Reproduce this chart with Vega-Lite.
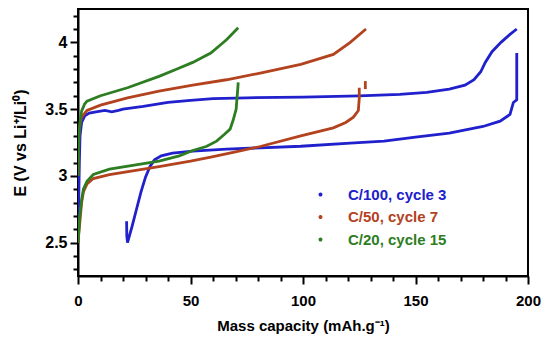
{
  "$schema": "https://vega.github.io/schema/vega-lite/v6.json",
  "width": 450,
  "height": 267,
  "autosize": {"type": "none"},
  "padding": {"left": 78, "top": 9, "right": 22, "bottom": 66},
  "background": "white",
  "config": {
    "view": {"stroke": "black", "strokeWidth": 2},
    "font": "Liberation Sans",
    "axis": {
      "domainColor": "black", "domainWidth": 2,
      "labelFont": "Liberation Sans", "labelFontWeight": "bold", "labelFontSize": 15, "labelColor": "black",
      "titleFont": "Liberation Sans", "titleFontWeight": "bold", "titleFontSize": 15, "titleColor": "black",
      "grid": false
    }
  },
  "data": {"values": [
    {"s":"C/100, cycle 3","g":"b1","i":0,"x":0,"y":2.55},
    {"s":"C/100, cycle 3","g":"b1","i":1,"x":0.3,"y":2.8},
    {"s":"C/100, cycle 3","g":"b1","i":2,"x":0.6,"y":3.1},
    {"s":"C/100, cycle 3","g":"b1","i":3,"x":0.9,"y":3.3},
    {"s":"C/100, cycle 3","g":"b1","i":4,"x":1.6,"y":3.4},
    {"s":"C/100, cycle 3","g":"b1","i":5,"x":3,"y":3.45},
    {"s":"C/100, cycle 3","g":"b1","i":6,"x":5,"y":3.47},
    {"s":"C/100, cycle 3","g":"b1","i":7,"x":8,"y":3.48},
    {"s":"C/100, cycle 3","g":"b1","i":8,"x":12,"y":3.49},
    {"s":"C/100, cycle 3","g":"b1","i":9,"x":15,"y":3.48},
    {"s":"C/100, cycle 3","g":"b1","i":10,"x":18,"y":3.49},
    {"s":"C/100, cycle 3","g":"b1","i":11,"x":20,"y":3.5},
    {"s":"C/100, cycle 3","g":"b1","i":12,"x":29,"y":3.52},
    {"s":"C/100, cycle 3","g":"b1","i":13,"x":40,"y":3.55},
    {"s":"C/100, cycle 3","g":"b1","i":14,"x":50,"y":3.565},
    {"s":"C/100, cycle 3","g":"b1","i":15,"x":60,"y":3.578},
    {"s":"C/100, cycle 3","g":"b1","i":16,"x":75,"y":3.585},
    {"s":"C/100, cycle 3","g":"b1","i":17,"x":100,"y":3.59},
    {"s":"C/100, cycle 3","g":"b1","i":18,"x":125,"y":3.6},
    {"s":"C/100, cycle 3","g":"b1","i":19,"x":143,"y":3.61},
    {"s":"C/100, cycle 3","g":"b1","i":20,"x":155,"y":3.625},
    {"s":"C/100, cycle 3","g":"b1","i":21,"x":165,"y":3.65},
    {"s":"C/100, cycle 3","g":"b1","i":22,"x":172,"y":3.68},
    {"s":"C/100, cycle 3","g":"b1","i":23,"x":176,"y":3.72},
    {"s":"C/100, cycle 3","g":"b1","i":24,"x":179,"y":3.78},
    {"s":"C/100, cycle 3","g":"b1","i":25,"x":181,"y":3.85},
    {"s":"C/100, cycle 3","g":"b1","i":26,"x":184,"y":3.93},
    {"s":"C/100, cycle 3","g":"b1","i":27,"x":188,"y":4.0},
    {"s":"C/100, cycle 3","g":"b1","i":28,"x":192,"y":4.06},
    {"s":"C/100, cycle 3","g":"b1","i":29,"x":195,"y":4.1},
    {"s":"C/100, cycle 3","g":"b2","i":0,"x":21.6,"y":2.66},
    {"s":"C/100, cycle 3","g":"b2","i":1,"x":21.7,"y":2.55},
    {"s":"C/100, cycle 3","g":"b2","i":2,"x":22,"y":2.5},
    {"s":"C/100, cycle 3","g":"b2","i":3,"x":24,"y":2.62},
    {"s":"C/100, cycle 3","g":"b2","i":4,"x":26,"y":2.75},
    {"s":"C/100, cycle 3","g":"b2","i":5,"x":28,"y":2.88},
    {"s":"C/100, cycle 3","g":"b2","i":6,"x":30,"y":2.99},
    {"s":"C/100, cycle 3","g":"b2","i":7,"x":32,"y":3.07},
    {"s":"C/100, cycle 3","g":"b2","i":8,"x":34,"y":3.12},
    {"s":"C/100, cycle 3","g":"b2","i":9,"x":37,"y":3.15},
    {"s":"C/100, cycle 3","g":"b2","i":10,"x":42,"y":3.17},
    {"s":"C/100, cycle 3","g":"b2","i":11,"x":51,"y":3.185},
    {"s":"C/100, cycle 3","g":"b2","i":12,"x":66,"y":3.2},
    {"s":"C/100, cycle 3","g":"b2","i":13,"x":81,"y":3.21},
    {"s":"C/100, cycle 3","g":"b2","i":14,"x":99,"y":3.222},
    {"s":"C/100, cycle 3","g":"b2","i":15,"x":121,"y":3.245},
    {"s":"C/100, cycle 3","g":"b2","i":16,"x":136,"y":3.26},
    {"s":"C/100, cycle 3","g":"b2","i":17,"x":150,"y":3.29},
    {"s":"C/100, cycle 3","g":"b2","i":18,"x":165,"y":3.32},
    {"s":"C/100, cycle 3","g":"b2","i":19,"x":180,"y":3.37},
    {"s":"C/100, cycle 3","g":"b2","i":20,"x":187.6,"y":3.41},
    {"s":"C/100, cycle 3","g":"b2","i":21,"x":192,"y":3.46},
    {"s":"C/100, cycle 3","g":"b2","i":22,"x":193.5,"y":3.55},
    {"s":"C/100, cycle 3","g":"b2","i":23,"x":195,"y":3.57},
    {"s":"C/100, cycle 3","g":"b2","i":24,"x":195,"y":3.75},
    {"s":"C/100, cycle 3","g":"b2","i":25,"x":195,"y":3.92},
    {"s":"C/50, cycle 7","g":"r1","i":0,"x":0,"y":3.0},
    {"s":"C/50, cycle 7","g":"r1","i":1,"x":0.4,"y":3.3},
    {"s":"C/50, cycle 7","g":"r1","i":2,"x":1,"y":3.4},
    {"s":"C/50, cycle 7","g":"r1","i":3,"x":1.6,"y":3.44},
    {"s":"C/50, cycle 7","g":"r1","i":4,"x":4,"y":3.49},
    {"s":"C/50, cycle 7","g":"r1","i":5,"x":10,"y":3.53},
    {"s":"C/50, cycle 7","g":"r1","i":6,"x":22,"y":3.585},
    {"s":"C/50, cycle 7","g":"r1","i":7,"x":36,"y":3.635},
    {"s":"C/50, cycle 7","g":"r1","i":8,"x":51,"y":3.68},
    {"s":"C/50, cycle 7","g":"r1","i":9,"x":66,"y":3.72},
    {"s":"C/50, cycle 7","g":"r1","i":10,"x":81,"y":3.77},
    {"s":"C/50, cycle 7","g":"r1","i":11,"x":99,"y":3.835},
    {"s":"C/50, cycle 7","g":"r1","i":12,"x":113.5,"y":3.91},
    {"s":"C/50, cycle 7","g":"r1","i":13,"x":121,"y":4.0},
    {"s":"C/50, cycle 7","g":"r1","i":14,"x":128,"y":4.1},
    {"s":"C/50, cycle 7","g":"r2","i":0,"x":0,"y":2.5},
    {"s":"C/50, cycle 7","g":"r2","i":1,"x":0.8,"y":2.65},
    {"s":"C/50, cycle 7","g":"r2","i":2,"x":1.6,"y":2.8},
    {"s":"C/50, cycle 7","g":"r2","i":3,"x":2.4,"y":2.88},
    {"s":"C/50, cycle 7","g":"r2","i":4,"x":4,"y":2.94},
    {"s":"C/50, cycle 7","g":"r2","i":5,"x":6.8,"y":2.98},
    {"s":"C/50, cycle 7","g":"r2","i":6,"x":14,"y":3.01},
    {"s":"C/50, cycle 7","g":"r2","i":7,"x":25,"y":3.04},
    {"s":"C/50, cycle 7","g":"r2","i":8,"x":36,"y":3.07},
    {"s":"C/50, cycle 7","g":"r2","i":9,"x":50,"y":3.11},
    {"s":"C/50, cycle 7","g":"r2","i":10,"x":59,"y":3.14},
    {"s":"C/50, cycle 7","g":"r2","i":11,"x":70,"y":3.18},
    {"s":"C/50, cycle 7","g":"r2","i":12,"x":81,"y":3.22},
    {"s":"C/50, cycle 7","g":"r2","i":13,"x":99,"y":3.3},
    {"s":"C/50, cycle 7","g":"r2","i":14,"x":113.5,"y":3.36},
    {"s":"C/50, cycle 7","g":"r2","i":15,"x":119,"y":3.4},
    {"s":"C/50, cycle 7","g":"r2","i":16,"x":122.4,"y":3.44},
    {"s":"C/50, cycle 7","g":"r2","i":17,"x":124.6,"y":3.49},
    {"s":"C/50, cycle 7","g":"r2","i":18,"x":125,"y":3.58},
    {"s":"C/50, cycle 7","g":"r2","i":19,"x":125,"y":3.66},
    {"s":"C/50, cycle 7","g":"r3","i":0,"x":127.7,"y":3.65},
    {"s":"C/50, cycle 7","g":"r3","i":1,"x":127.7,"y":3.71},
    {"s":"C/20, cycle 15","g":"g1","i":0,"x":0,"y":3.0},
    {"s":"C/20, cycle 15","g":"g1","i":1,"x":0.4,"y":3.3},
    {"s":"C/20, cycle 15","g":"g1","i":2,"x":1,"y":3.42},
    {"s":"C/20, cycle 15","g":"g1","i":3,"x":1.6,"y":3.485},
    {"s":"C/20, cycle 15","g":"g1","i":4,"x":3,"y":3.54},
    {"s":"C/20, cycle 15","g":"g1","i":5,"x":4,"y":3.56},
    {"s":"C/20, cycle 15","g":"g1","i":6,"x":10,"y":3.6},
    {"s":"C/20, cycle 15","g":"g1","i":7,"x":22,"y":3.66},
    {"s":"C/20, cycle 15","g":"g1","i":8,"x":36,"y":3.745},
    {"s":"C/20, cycle 15","g":"g1","i":9,"x":44,"y":3.8},
    {"s":"C/20, cycle 15","g":"g1","i":10,"x":51,"y":3.85},
    {"s":"C/20, cycle 15","g":"g1","i":11,"x":59,"y":3.92},
    {"s":"C/20, cycle 15","g":"g1","i":12,"x":66,"y":4.02},
    {"s":"C/20, cycle 15","g":"g1","i":13,"x":71.2,"y":4.11},
    {"s":"C/20, cycle 15","g":"g2","i":0,"x":0,"y":2.5},
    {"s":"C/20, cycle 15","g":"g2","i":1,"x":0.8,"y":2.7},
    {"s":"C/20, cycle 15","g":"g2","i":2,"x":1.6,"y":2.82},
    {"s":"C/20, cycle 15","g":"g2","i":3,"x":2.4,"y":2.9},
    {"s":"C/20, cycle 15","g":"g2","i":4,"x":4,"y":2.96},
    {"s":"C/20, cycle 15","g":"g2","i":5,"x":6.8,"y":3.01},
    {"s":"C/20, cycle 15","g":"g2","i":6,"x":14,"y":3.05},
    {"s":"C/20, cycle 15","g":"g2","i":7,"x":25,"y":3.08},
    {"s":"C/20, cycle 15","g":"g2","i":8,"x":36,"y":3.11},
    {"s":"C/20, cycle 15","g":"g2","i":9,"x":45,"y":3.15},
    {"s":"C/20, cycle 15","g":"g2","i":10,"x":51,"y":3.19},
    {"s":"C/20, cycle 15","g":"g2","i":11,"x":57,"y":3.22},
    {"s":"C/20, cycle 15","g":"g2","i":12,"x":61.6,"y":3.26},
    {"s":"C/20, cycle 15","g":"g2","i":13,"x":65,"y":3.31},
    {"s":"C/20, cycle 15","g":"g2","i":14,"x":67.6,"y":3.35},
    {"s":"C/20, cycle 15","g":"g2","i":15,"x":69,"y":3.42},
    {"s":"C/20, cycle 15","g":"g2","i":16,"x":70.3,"y":3.5},
    {"s":"C/20, cycle 15","g":"g2","i":17,"x":70.6,"y":3.57},
    {"s":"C/20, cycle 15","g":"g2","i":18,"x":71,"y":3.65},
    {"s":"C/20, cycle 15","g":"g2","i":19,"x":71.2,"y":3.7}
  ]},
  "resolve": {"axis": {"x": "independent", "y": "independent"}},
  "layer": [
    {
      "mark": {"type": "line", "opacity": 0},
      "encoding": {
        "x": {
          "field": "x", "type": "quantitative",
          "scale": {"domain": [0, 200], "nice": false, "zero": false},
          "axis": {
            "orient": "bottom", "title": null, "labels": false, "domain": false,
            "ticks": true, "tickSize": 5, "tickWidth": 2, "tickColor": "#000000", "tickOpacity": 1,
            "values": [10,20,30,40,60,70,80,90,110,120,130,140,160,170,180,190]
          }
        },
        "y": {
          "field": "y", "type": "quantitative",
          "scale": {"domain": [2.25, 4.25], "nice": false, "zero": false},
          "axis": {
            "orient": "left", "title": null, "labels": false, "domain": false,
            "ticks": true, "tickSize": 5, "tickWidth": 2, "tickColor": "#000000", "tickOpacity": 1,
            "values": [2.3,2.4,2.6,2.7,2.8,2.9,3.1,3.2,3.3,3.4,3.6,3.7,3.8,3.9,4.1,4.2]
          }
        },
        "detail": {"field": "g"}
      }
    },
    {
      "mark": {"type": "line", "strokeWidth": 2.8, "clip": true},
      "encoding": {
        "x": {
          "field": "x", "type": "quantitative",
          "scale": {"domain": [0, 200], "nice": false, "zero": false},
          "axis": {
            "orient": "bottom",
            "title": "Mass capacity (mAh.g⁻¹)",
            "values": [0, 50, 100, 150, 200],
            "format": "d",
            "ticks": true, "tickSize": 8, "tickWidth": 2, "tickColor": "#000000", "tickOpacity": 1,
            "labelPadding": 9, "titlePadding": 10, "labelFlush": false, "labelOverlap": false
          }
        },
        "y": {
          "field": "y", "type": "quantitative",
          "scale": {"domain": [2.25, 4.25], "nice": false, "zero": false},
          "axis": {
            "orient": "left",
            "title": "E (V vs Li⁺/Li⁰)",
            "titleFontSize": 16,
            "values": [2.5, 3, 3.5, 4],
            "labelExpr": "format(datum.value, '~g')",
            "ticks": true, "tickSize": 8, "tickWidth": 2, "tickColor": "#000000", "tickOpacity": 1,
            "labelPadding": 3, "titlePadding": 16, "labelFlush": false, "labelOverlap": false, "labelFontSize": 16
          }
        },
        "color": {
          "field": "s", "type": "nominal",
          "scale": {"domain": ["C/100, cycle 3", "C/50, cycle 7", "C/20, cycle 15"], "range": ["#2020cc", "#b3421e", "#2d7d22"]},
          "legend": {
            "title": null, "orient": "none", "legendX": 235, "legendY": 178,
            "symbolType": "circle", "symbolSize": 6,
            "labelFont": "Liberation Sans", "labelFontWeight": "bold", "labelFontSize": 15,
            "labelOffset": 20, "rowPadding": 6.5, "padding": 0,
            "encode": {
              "labels": {"update": {"fill": {"scale": "color", "field": "value"}}},
              "symbols": {"update": {"fill": {"scale": "color", "field": "value"}, "stroke": {"value": "transparent"}}}
            }
          }
        },
        "detail": {"field": "g"},
        "order": {"field": "i", "type": "quantitative"}
      }
    }
  ]
}
